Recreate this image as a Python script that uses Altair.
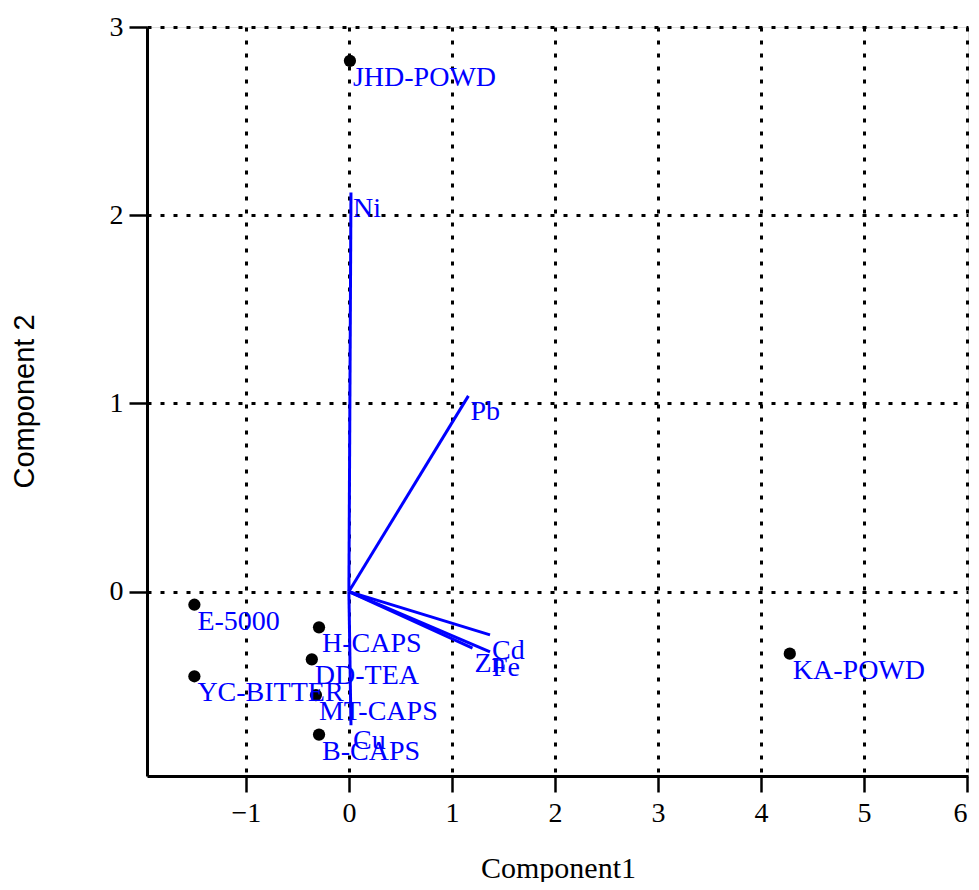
import altair as alt
import pandas as pd

# Observations (scores)
obs_names = ["JHD-POWD", "E-5000", "YC-BITTER", "H-CAPS", "DD-TEA", "MT-CAPS", "B-CAPS", "KA-POWD"]
obs_x = [0.01, -1.50, -1.50, -0.29, -0.36, -0.32, -0.29, 4.28]
obs_y = [2.82, -0.07, -0.45, -0.19, -0.36, -0.55, -0.76, -0.33]

# Variables (loadings)
var_names = ["Ni", "Pb", "Cd", "Fe", "Zn", "Cu"]
var_x = [0.02, 1.16, 1.37, 1.37, 1.20, 0.02]
var_y = [2.12, 1.04, -0.23, -0.32, -0.30, -0.71]

x_ticks = [-1, 0, 1, 2, 3, 4, 5, 6]
y_ticks = [0, 1, 2, 3]
x_domain = [-1.96, 6.01]
y_domain = [-0.98, 3.0]

obs = pd.DataFrame({"name": obs_names, "x": obs_x, "y": obs_y})
var = pd.DataFrame({"name": var_names, "x": var_x, "y": var_y,
                    "x0": [0.0] * len(var_names), "y0": [0.0] * len(var_names)})

SERIF = "Liberation Serif"
BLUE = "#0000FF"

xscale = alt.Scale(domain=x_domain, nice=False, zero=False)
yscale = alt.Scale(domain=y_domain, nice=False, zero=False)

xaxis = alt.Axis(
    title="Component1", values=x_ticks, grid=True,
    gridColor="black", gridDash=[4, 9], gridWidth=3, gridOpacity=1,
    domainColor="black", domainWidth=3, tickColor="black", tickWidth=2.5, tickSize=16,
    labelFont=SERIF, labelFontSize=28, labelColor="black", labelPadding=7,
    titleFont=SERIF, titleFontSize=30, titleFontWeight="normal", titleColor="black",
    titleX=411, titleY=92, titleBaseline="middle", titleAlign="center",
    labelFlush=4, format="d",
)
yaxis = alt.Axis(
    title="Component 2", values=y_ticks, grid=True,
    gridColor="black", gridDash=[4, 9], gridWidth=3, gridOpacity=1,
    domainColor="black", domainWidth=3, tickColor="black", tickWidth=2.5, tickSize=18,
    labelFont=SERIF, labelFontSize=28, labelColor="black", labelPadding=6,
    titleFont="Liberation Sans", titleFontSize=29, titleFontWeight="normal", titleColor="black",
    titleX=-123, titleY=374, titleBaseline="middle", titleAlign="center", titleAngle=270,
    labelFlush=False, format="d",
)

vectors = alt.Chart(var).mark_rule(color=BLUE, strokeWidth=3).encode(
    x=alt.X("x0:Q", scale=xscale, axis=xaxis),
    y=alt.Y("y0:Q", scale=yscale, axis=yaxis),
    x2="x:Q",
    y2="y:Q",
)

var_labels = alt.Chart(var).mark_text(
    color=BLUE, font=SERIF, fontSize=28, align="left", baseline="top", dx=2, dy=2
).encode(x=alt.X("x:Q", scale=xscale), y=alt.Y("y:Q", scale=yscale), text="name:N")

points = alt.Chart(obs).mark_circle(color="black", opacity=1, size=150).encode(
    x=alt.X("x:Q", scale=xscale), y=alt.Y("y:Q", scale=yscale)
)

obs_labels = alt.Chart(obs).mark_text(
    color=BLUE, font=SERIF, fontSize=28, align="left", baseline="top", dx=3, dy=3
).encode(x=alt.X("x:Q", scale=xscale), y=alt.Y("y:Q", scale=yscale), text="name:N")

chart = alt.layer(vectors, points, obs_labels, var_labels).properties(
    width=821, height=749,
    autosize=alt.AutoSizeParams(type="none"),
    padding={"left": 139, "top": 19, "right": 3, "bottom": 106},
).configure_view(stroke=None).configure(background="white")

chart.save("out.html", embed_options={"renderer": "svg", "actions": False})
